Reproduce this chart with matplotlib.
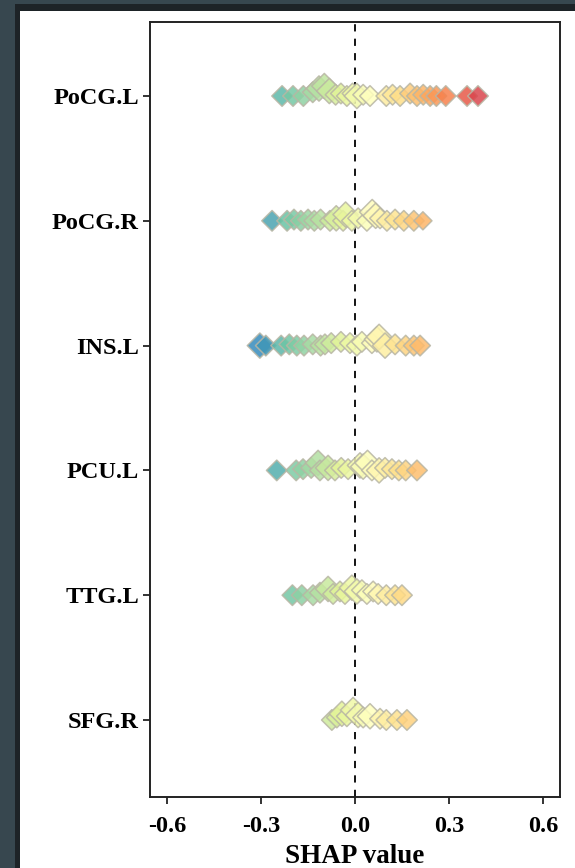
"""
SHAP summary plot: per-region SHAP values drawn as diamond swarms
"""
import matplotlib
matplotlib.use('Agg')
import matplotlib.pyplot as plt
import matplotlib.patches as patches
import numpy as np

features = ['PoCG.L', 'PoCG.R', 'INS.L', 'PCU.L', 'TTG.L', 'SFG.R']

# SHAP values for each region (one entry per sample shown)
pocg_l_shap = [-0.233, -0.198, -0.165, -0.135, -0.115, -0.098, -0.082, -0.062,
               -0.045, -0.026, -0.008, 0.006, 0.026, 0.048, 0.100, 0.120,
               0.144, 0.176, 0.198, 0.218, 0.240, 0.260, 0.290, 0.358, 0.393]
pocg_r_shap = [-0.265, -0.217, -0.195, -0.173, -0.150, -0.130, -0.110, -0.080,
               -0.060, -0.038, -0.030, -0.010, 0.010, 0.038, 0.055, 0.066,
               0.080, 0.102, 0.128, 0.156, 0.188, 0.217]
ins_l_shap = [-0.304, -0.285, -0.236, -0.210, -0.186, -0.163, -0.135, -0.110,
              -0.096, -0.076, -0.045, -0.016, 0.006, 0.022, 0.054, 0.070,
              0.077, 0.096, 0.128, 0.162, 0.188, 0.208]
pcu_l_shap = [-0.250, -0.188, -0.166, -0.140, -0.118, -0.112, -0.086, -0.064,
              -0.044, -0.022, 0.016, 0.026, 0.040, 0.054, 0.077, 0.096,
              0.118, 0.140, 0.162, 0.198]
ttg_l_shap = [-0.200, -0.170, -0.134, -0.112, -0.086, -0.070, -0.048, -0.032,
              -0.010, 0.006, 0.022, 0.038, 0.058, 0.074, 0.100, 0.128, 0.150]
sfg_r_shap = [-0.074, -0.058, -0.042, -0.026, -0.006, 0.010, 0.026, 0.048,
              0.080, 0.100, 0.134, 0.166]

# marker weight (1 = small, 3 = large) and swarm lift above the row line
pocg_l_w = [2, 2, 2, 2, 3, 3, 3, 2, 2, 2, 2, 3, 2, 2, 2, 2, 2, 2, 2, 2, 2, 2, 2, 2, 2]
pocg_l_lift = [0, 0, 0, 0.03, 0.06, 0.08, 0.04, 0.01, 0.02, 0, 0.02, 0, 0.01, 0,
               0, 0.01, 0, 0.02, 0, 0.01, 0, 0, 0, 0, 0]
pocg_r_w = [2, 2, 2, 2, 2, 2, 2, 2, 3, 2, 3, 2, 2, 2, 3, 3, 2, 2, 2, 2, 2, 1]
pocg_r_lift = [0, 0, 0.01, 0, 0.01, 0, 0.01, 0, 0.02, 0, 0.05, 0, 0.02, 0, 0.07,
               0.04, 0.02, 0, 0.01, 0, 0, 0]
ins_l_w = [3, 2, 2, 2, 2, 2, 2, 2, 2, 2, 2, 2, 2, 2, 2, 3, 3, 3, 2, 2, 2, 2]
ins_l_lift = [0, 0, 0, 0.01, 0, 0, 0.01, 0, 0.01, 0.02, 0.03, 0.02, 0, 0.03,
              0.02, 0.05, 0.07, 0, 0.01, 0, 0, 0]
pcu_l_w = [2, 2, 2, 2, 3, 2, 3, 2, 2, 2, 3, 3, 3, 2, 3, 2, 2, 2, 2, 2]
pcu_l_lift = [0, 0, 0.01, 0.02, 0.06, 0, 0.02, 0, 0.02, 0.01, 0.04, 0.03, 0.06,
              0, 0, 0.02, 0.01, 0, 0, 0]
ttg_l_w = [2, 2, 2, 2, 3, 2, 2, 2, 3, 3, 2, 2, 2, 2, 2, 2, 2]
ttg_l_lift = [0, 0, 0, 0.02, 0.05, 0.01, 0.03, 0.01, 0.06, 0.03, 0.04, 0.01, 0.03,
              0.01, 0, 0, 0]
sfg_r_w = [2, 2, 3, 2, 3, 3, 2, 3, 2, 2, 2, 2]
sfg_r_lift = [0, 0.02, 0.05, 0.03, 0.08, 0.04, 0.02, 0.03, 0.01, 0, 0, 0]

rows = [
    (pocg_l_shap, pocg_l_w, pocg_l_lift),
    (pocg_r_shap, pocg_r_w, pocg_r_lift),
    (ins_l_shap, ins_l_w, ins_l_lift),
    (pcu_l_shap, pcu_l_w, pcu_l_lift),
    (ttg_l_shap, ttg_l_w, ttg_l_lift),
    (sfg_r_shap, sfg_r_w, sfg_r_lift),
]

plt.rcParams['font.family'] = ['Liberation Serif', 'DejaVu Serif']
plt.rcParams['font.weight'] = 'bold'

fig = plt.figure(figsize=(5.75, 8.68), dpi=100)
fig.patch.set_facecolor('white')

# dark window frame around the figure
fig.patches.append(patches.Rectangle((0, 0), 1, 1, transform=fig.transFigure,
                                     facecolor='#37474f', edgecolor='none', zorder=-3))
fig.patches.append(patches.Rectangle((15 / 575, 0), 1, 1 - 4 / 868, transform=fig.transFigure,
                                     facecolor='#1d2327', edgecolor='none', zorder=-2))
fig.patches.append(patches.Rectangle((20 / 575, 0), 1, 1 - 11 / 868, transform=fig.transFigure,
                                     facecolor='white', edgecolor='none', zorder=-1))

ax = fig.add_axes([150 / 575, 1 - 797 / 868, 410 / 575, 775 / 868])
ax.set_facecolor('white')

cmap = plt.get_cmap('Spectral_r')
norm = plt.Normalize(vmin=-0.4, vmax=0.5)
size_map = {1: 85, 2: 110, 3: 165}

n = len(features)
for i, (shap, w, lift) in enumerate(rows):
    ypos = n - i
    shap = np.array(shap)
    y = ypos + np.array(lift)
    s = [size_map[k] for k in w]
    ax.scatter(shap, y, s=s, c=shap, cmap=cmap, norm=norm, marker='D',
               edgecolors='#b8b6a4', linewidths=1.1, alpha=0.85, zorder=3)

ax.axvline(0, color='black', linestyle=(0, (4, 4)), linewidth=1.3, zorder=2)

ax.set_xlim(-0.655, 0.655)
ax.set_ylim(0.383, 6.593)
ax.set_xticks([-0.6, -0.3, 0.0, 0.3, 0.6])
ax.set_xticklabels(['-0.6', '-0.3', '0.0', '0.3', '0.6'], fontsize=17.5, fontweight='bold')
ax.set_yticks(range(n, 0, -1))
ax.set_yticklabels(features, fontsize=17.5, fontweight='bold')
ax.tick_params(axis='both', direction='out', length=5, width=1.4, color='#333333')
ax.tick_params(axis='y', pad=3)
ax.tick_params(axis='x', pad=9)
ax.set_xlabel('SHAP value', fontsize=19.5, fontweight='bold', labelpad=5)

for sp in ax.spines.values():
    sp.set_linewidth(1.4)
    sp.set_color('#222222')

fig.savefig('out.png', dpi=100, facecolor=fig.get_facecolor())
